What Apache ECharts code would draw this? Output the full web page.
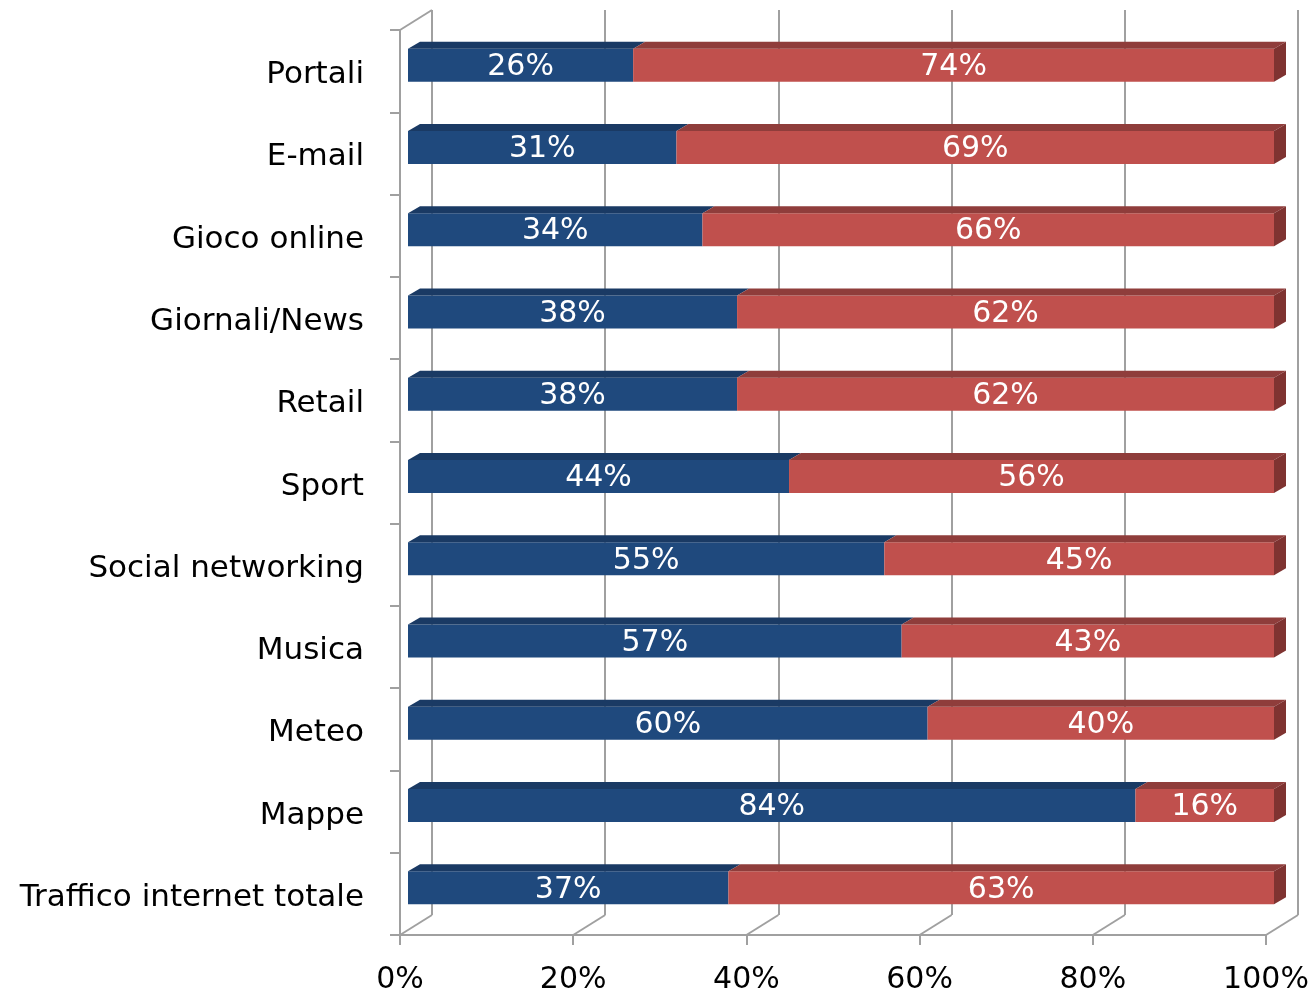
<!DOCTYPE html>
<html><head><meta charset="utf-8">
<script src="https://cdn.jsdelivr.net/npm/echarts@6/dist/echarts.min.js"></script>
<style>html,body{margin:0;padding:0;background:#fff}#c{width:1310px;height:995px}</style>
</head><body><div id="c"></div>
<script>
var categories = ['Portali','E-mail','Gioco online','Giornali/News','Retail','Sport','Social networking','Musica','Meteo','Mappe','Traffico internet totale'];
var blueValues = [26,31,34,38,38,44,55,57,60,84,37];
var redValues  = [74,69,66,62,62,56,45,43,40,16,63];
var xTicks = [0,20,40,60,80,100];

var FONT = 'DejaVu Sans';
var GRID = '#a0a0a0';
var DX = 32, DY = -20;      // wall depth
var BX = 8, BY = -6;        // bar position within depth
var TX = 12, TY = -7;       // bar thickness (top face)
var BH = 33;

var chart = echarts.init(document.getElementById('c'));

function barItem(params, api) {
  var i = params.dataIndex;
  var b = api.value(0), r = api.value(1);
  var p0 = api.coord([0, i]);
  var p1 = api.coord([b, i]);
  var p2 = api.coord([b + r, i]);
  var x0 = p0[0] + BX, x1 = p1[0] + BX, x2 = p2[0] + BX;
  var yc = p0[1] + BY;
  var yt = yc - BH / 2, yb = yc + BH / 2;
  var ch = [];
  ch.push({type:'rect', shape:{x:x0, y:yt, width:x1-x0, height:BH}, style:{fill:'#1f497d'}});
  ch.push({type:'polygon', shape:{points:[[x0,yt],[x0+TX,yt+TY],[x1+TX,yt+TY],[x1,yt]]}, style:{fill:'#1a3a64'}});
  ch.push({type:'rect', shape:{x:x1, y:yt, width:x2-x1, height:BH}, style:{fill:'#c0504d'}});
  ch.push({type:'polygon', shape:{points:[[x1,yt],[x1+TX,yt+TY],[x2+TX,yt+TY],[x2,yt]]}, style:{fill:'#8f3d3b'}});
  ch.push({type:'polygon', shape:{points:[[x2,yt],[x2+TX,yt+TY],[x2+TX,yb+TY],[x2,yb]]}, style:{fill:'#7f3331'}});
  ch.push({type:'text', style:{x:(x0+x1)/2, y:yc+2, text:b+'%', fill:'#fff', font:'30px "'+FONT+'"', align:'center', verticalAlign:'middle'}});
  ch.push({type:'text', style:{x:(x1+x2)/2, y:yc+2, text:r+'%', fill:'#fff', font:'30px "'+FONT+'"', align:'center', verticalAlign:'middle'}});
  return {type:'group', children:ch};
}

function wallItem(params, api) {
  var cs = params.coordSys;
  var bottom = cs.y + cs.height;
  var ch = [];
  xTicks.forEach(function (v) {
    var x = api.coord([v, 0])[0];
    ch.push({type:'line', shape:{x1:x, y1:bottom, x2:x+DX, y2:bottom+DY}, style:{stroke:GRID, lineWidth:2}});
  });
  ch.push({type:'line', shape:{x1:cs.x, y1:cs.y, x2:cs.x+DX, y2:cs.y+DY}, style:{stroke:GRID, lineWidth:2}});
  return {type:'group', children:ch};
}

chart.setOption({
  animation: false,
  grid: [
    {left: 400, top: 30, width: 866, height: 905, outerBoundsMode: 'none', containLabel: false},
    {left: 432, top: 10, width: 866, height: 905, outerBoundsMode: 'none', containLabel: false}
  ],
  xAxis: [
    {gridIndex:0, type:'value', min:0, max:100, interval:20,
     axisLine:{show:true, lineStyle:{color:GRID, width:2}},
     axisTick:{show:true, length:10, lineStyle:{color:GRID, width:2}},
     splitLine:{show:false},
     axisLabel:{formatter:'{value}%', color:'#000', fontSize:30, fontFamily:FONT, margin:30}},
    {gridIndex:1, type:'value', min:0, max:100, interval:20,
     axisLine:{show:false}, axisTick:{show:false}, axisLabel:{show:false},
     splitLine:{show:true, lineStyle:{color:GRID, width:2}}}
  ],
  yAxis: [
    {gridIndex:0, type:'category', data:categories, inverse:true,
     axisLine:{show:true, lineStyle:{color:GRID, width:2}},
     axisTick:{show:true, length:10, lineStyle:{color:GRID, width:2}},
     axisLabel:{color:'#000', margin:36, formatter:'{a|{value}}',
       rich:{a:{fontSize:31, fontFamily:FONT, color:'#000', padding:[8,0,0,0]}}}},
    {gridIndex:1, type:'category', data:categories, inverse:true, show:false}
  ],
  series: [
    {type:'custom', xAxisIndex:0, yAxisIndex:0, renderItem:wallItem, data:[[0,0]], silent:true, z:1},
    {type:'custom', xAxisIndex:0, yAxisIndex:0, renderItem:barItem, z:5,
     encode:{x:[0,1]},
     data: blueValues.map(function (b, i) { return [b, redValues[i]]; })}
  ]
});
</script></body></html>
